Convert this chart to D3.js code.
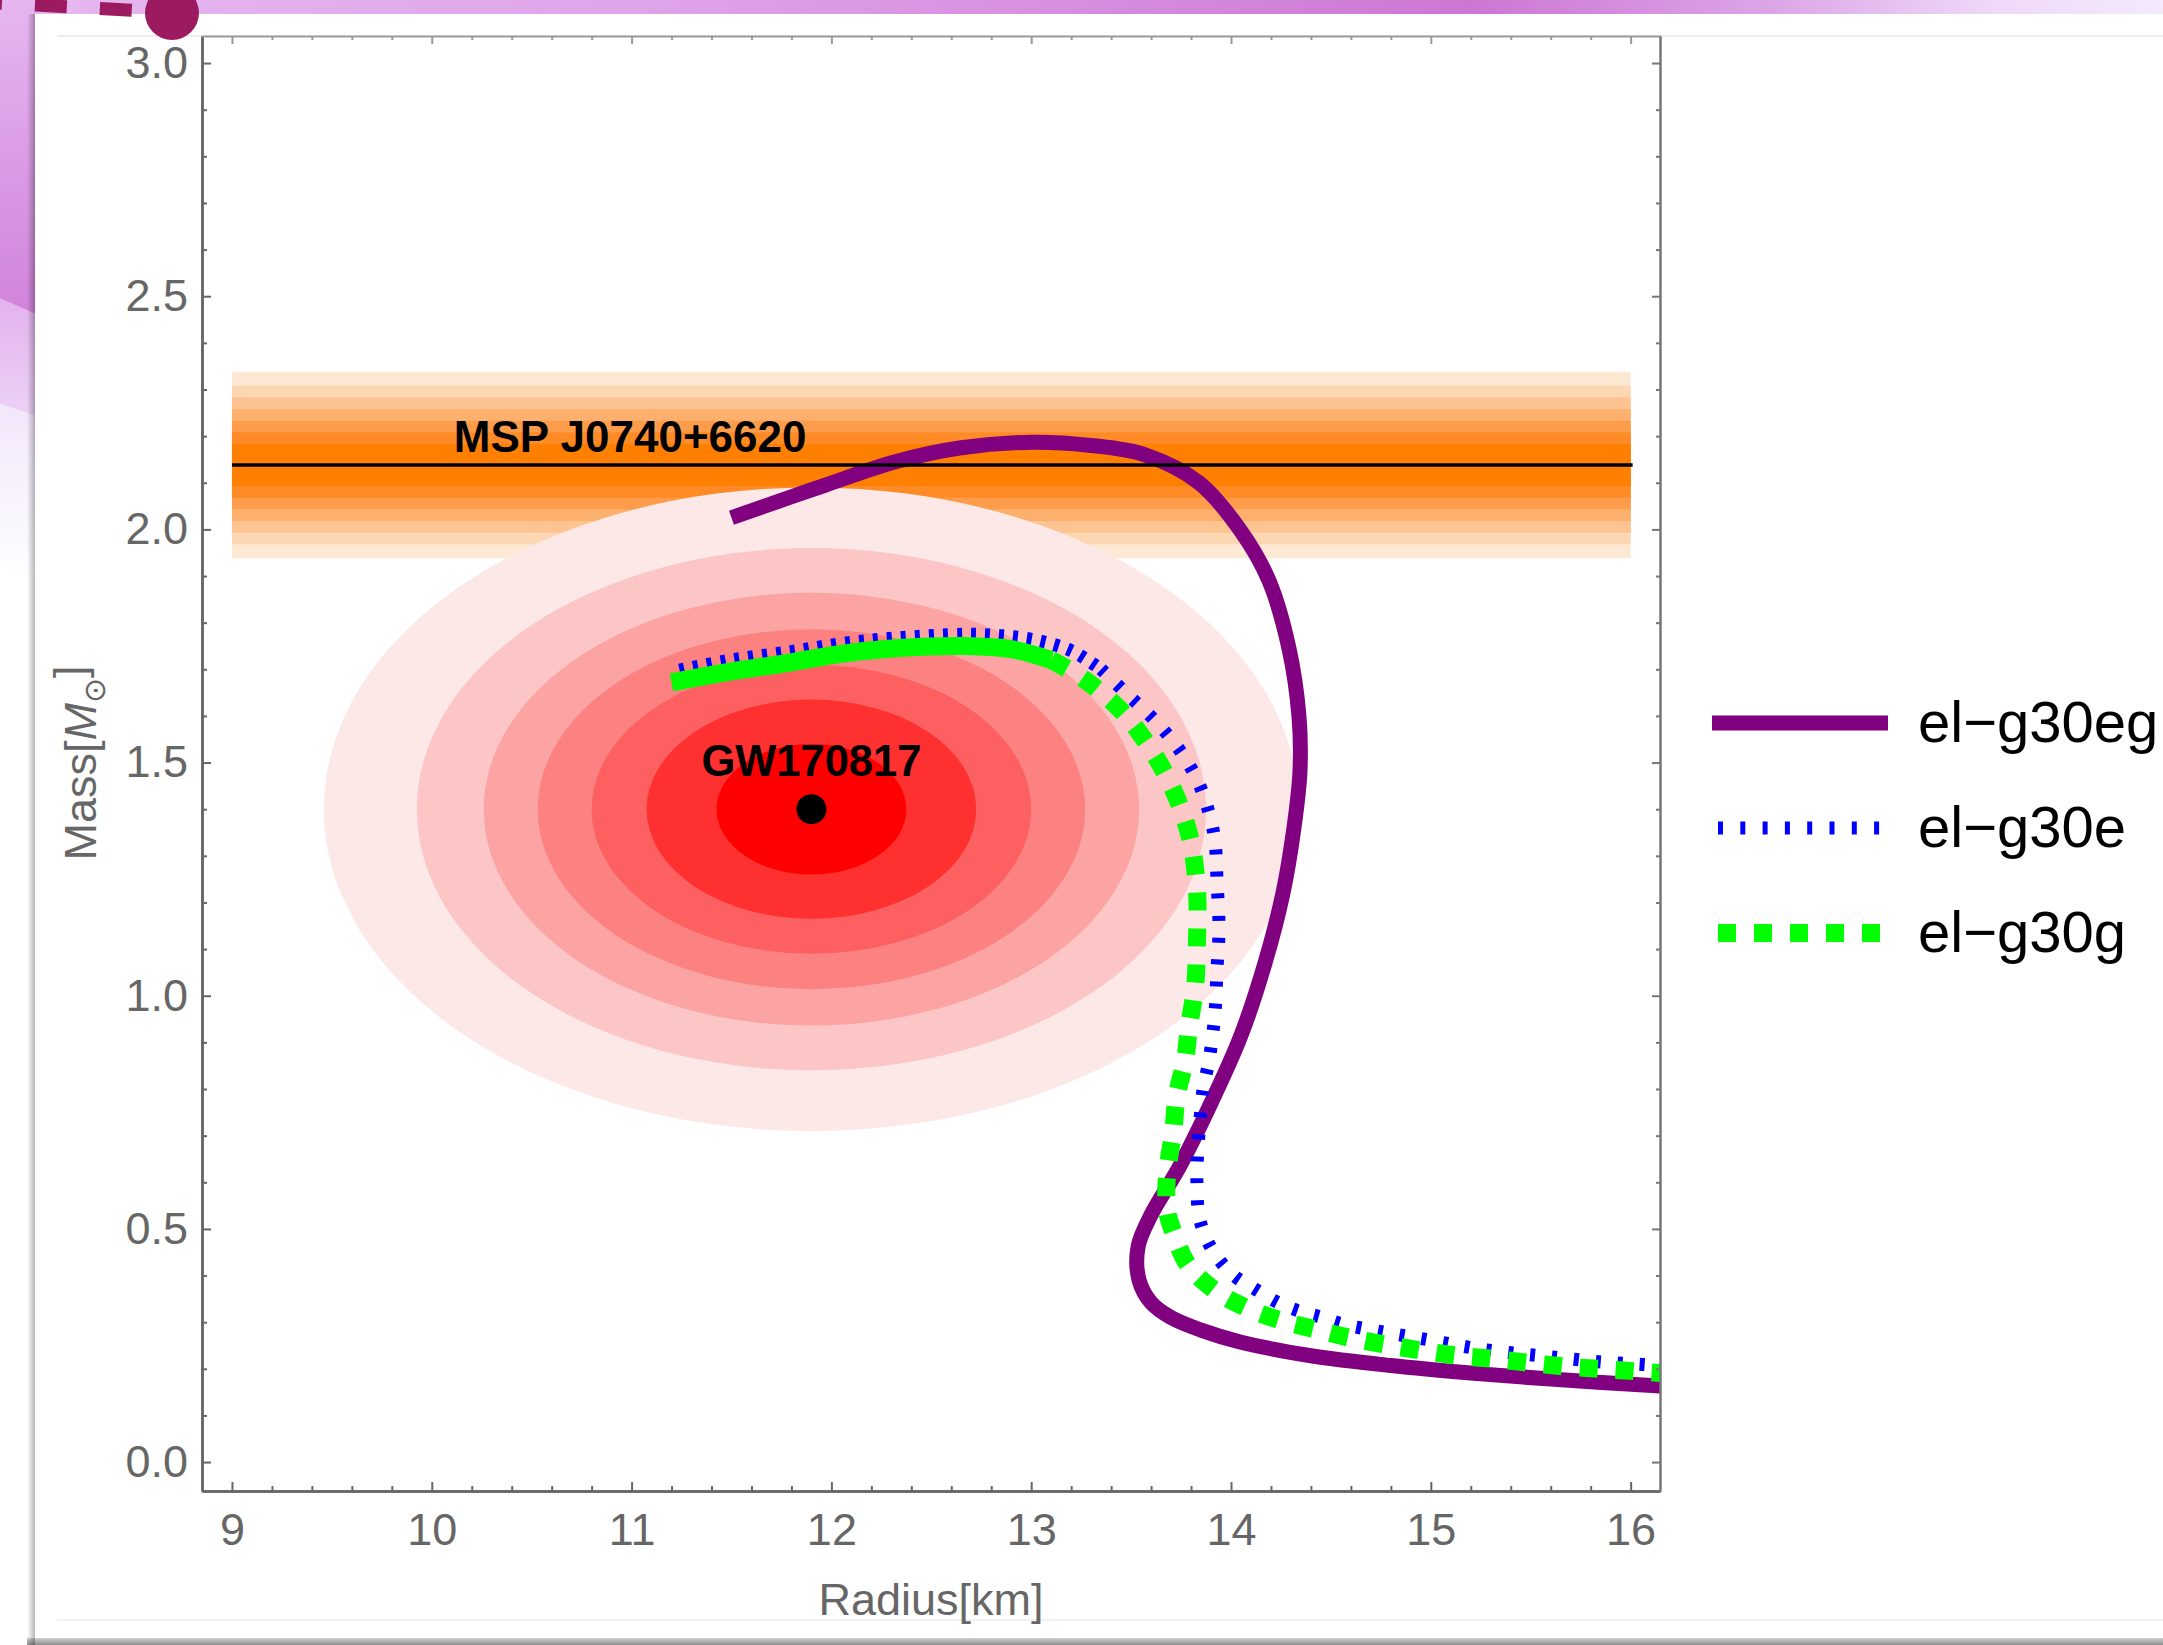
<!DOCTYPE html>
<meta charset="utf-8">
<style>
body {
  margin: 0;
  background: #fff;
}
svg {
  display: block;
  font-family: "Liberation Sans", Arial, Helvetica, sans-serif;
}
.axis text {
  fill: #666;
  font-size: 45px;
}
.label {
  fill: #666;
  font-size: 45px;
}
.legend text {
  font-size: 58px;
  fill: #000;
}
</style>

<svg width="2163" height="1645"></svg>
<script src="https://d3js.org/d3.v7.min.js"></script>
<script>

// tick labels
var radiusTicks = [9, 10, 11, 12, 13, 14, 15, 16];
var massTicks = [0, 0.5, 1.0, 1.5, 2.0, 2.5, 3.0];

var seriesNames = ["el\u2212g30eg", "el\u2212g30e", "el\u2212g30g"];

// mass-radius curves [radius km, mass Msun]
var g30eg = [
  [11.5, 2.025], [11.8, 2.07], [11.97, 2.095], [12.32, 2.145], [12.65, 2.175],
  [13.01, 2.187], [13.3, 2.18], [13.57, 2.16], [13.84, 2.1], [14.05, 1.996],
  [14.19, 1.89], [14.29, 1.745], [14.34, 1.6], [14.345, 1.48], [14.315, 1.36],
  [14.26, 1.22], [14.17, 1.07], [14.05, 0.915], [13.9, 0.77], [13.74, 0.632],
  [13.6, 0.53], [13.535, 0.462], [13.54, 0.39], [13.6, 0.342], [13.7, 0.31],
  [13.85, 0.283], [14.05, 0.257], [14.4, 0.228], [14.8, 0.207], [15.2, 0.191],
  [15.6, 0.178], [16.15, 0.163]
];

var g30e = [
  [11.24, 1.698], [11.5, 1.72], [11.8, 1.738], [12.05, 1.755], [12.32, 1.767],
  [12.67, 1.775], [12.85, 1.772], [13.03, 1.762], [13.2, 1.74], [13.35, 1.70],
  [13.46, 1.655], [13.63, 1.585], [13.76, 1.516], [13.84, 1.454], [13.89, 1.392],
  [13.92, 1.33], [13.93, 1.246], [13.94, 1.142], [13.93, 1.059], [13.92, 0.965],
  [13.89, 0.861], [13.86, 0.799], [13.84, 0.706], [13.83, 0.633], [13.83, 0.585],
  [13.84, 0.527], [13.88, 0.476], [13.94, 0.434], [14.02, 0.398], [14.12, 0.371],
  [14.23, 0.343], [14.34, 0.324], [14.45, 0.311], [14.56, 0.296], [14.76, 0.279],
  [14.99, 0.262], [15.21, 0.245], [15.43, 0.233], [15.62, 0.225], [15.84, 0.215],
  [16.0, 0.211], [16.15, 0.207]
];

var g30g = [
  [11.2, 1.672], [11.45, 1.692], [11.8, 1.715], [12.05, 1.733], [12.32, 1.745],
  [12.67, 1.75], [12.9, 1.743], [13.1, 1.72], [13.26, 1.68], [13.43, 1.62],
  [13.54, 1.565], [13.66, 1.485], [13.74, 1.412], [13.8, 1.329], [13.83, 1.225],
  [13.83, 1.121], [13.82, 1.017], [13.79, 0.934], [13.77, 0.861], [13.73, 0.789],
  [13.71, 0.706], [13.68, 0.617], [13.68, 0.539], [13.71, 0.495], [13.78, 0.426],
  [13.91, 0.371], [14.07, 0.332], [14.24, 0.305], [14.42, 0.285], [14.58, 0.268],
  [14.76, 0.253], [14.94, 0.24], [15.12, 0.229], [15.32, 0.221], [15.51, 0.212],
  [15.7, 0.204], [15.88, 0.199], [16.05, 0.194], [16.15, 0.191]
];

// MSP J0740+6620 band: centre mass, radius span, half-widths of the shaded levels
var mspName = "MSP J0740+6620";
var mspMass = 2.138;
var mspRadius = [9, 16];
var mspLevels = [0.2, 0.17, 0.145, 0.12, 0.095, 0.07, 0.045];
var mspColors = ["#fde8d3", "#fdd6b2", "#fdc390", "#fcb06e", "#fd9d4c", "#fe8b26", "#ff7f00"];

// GW170817 contours: centre and semi-axes of each level
var gwName = "GW170817";
var gwCenter = [11.9, 1.4];
var gwSemiR = [2.44, 1.975, 1.64, 1.37, 1.1, 0.825, 0.475];
var gwSemiM = [0.69, 0.56, 0.464, 0.386, 0.31, 0.235, 0.14];
var gwColors = ["#fde8e8", "#fdc6c6", "#fca4a4", "#fc8282", "#fd6060", "#fe3030", "#ff0000"];

var svg = d3.select("svg");
var defs = svg.append("defs");

// ---- slide background ----
function grad(id, x2, y2, stops) {
  var g = defs.append("linearGradient").attr("id", id)
      .attr("x1", 0).attr("y1", 0).attr("x2", x2).attr("y2", y2);
  stops.forEach(function(s) {
    g.append("stop").attr("offset", s[0]).attr("stop-color", s[1]).attr("stop-opacity", s[2] == null ? 1 : s[2]);
  });
}
grad("topband", 1, 0, [[0, "#e6b8f0"], [0.3, "#dea4e8"], [0.5, "#d68ede"], [0.68, "#cc76d4"], [0.82, "#dca6e6"], [0.92, "#eed8f8"], [1, "#f4eafc"]]);
grad("strip1", 0, 1, [[0, "#e6b6f0"], [1, "#d083da"]]);
grad("strip2", 0, 1, [[0, "#e4b2ee"], [1, "#ecd2f6"]]);
grad("strip3", 0, 1, [[0, "#f2e6fb"], [1, "#ffffff"]]);
grad("shadowL", 1, 0, [[0, "#000", 0], [1, "#000", 0.28]]);
grad("shadowB", 0, 1, [[0, "#000", 0.18], [1, "#000", 0.45]]);

svg.append("rect").attr("x", 0).attr("y", 0).attr("width", 2163).attr("height", 14).attr("fill", "url(#topband)");
svg.append("rect").attr("x", 0).attr("y", 0).attr("width", 36).attr("height", 316).attr("fill", "url(#strip1)");
svg.append("path").attr("d", "M0,298L36,314L36,416L0,404Z").attr("fill", "url(#strip2)");
svg.append("path").attr("d", "M0,404L36,416L36,580L0,565Z").attr("fill", "url(#strip3)");

svg.append("rect").attr("x", 35).attr("y", 14).attr("width", 2128).attr("height", 1624).attr("fill", "#fff");
svg.append("rect").attr("x", 27).attr("y", 14).attr("width", 8).attr("height", 1631).attr("fill", "url(#shadowL)");
svg.append("rect").attr("x", 27).attr("y", 1638).attr("width", 2136).attr("height", 7).attr("fill", "url(#shadowB)");
svg.append("line").attr("x1", 57).attr("x2", 2163).attr("y1", 36).attr("y2", 36).attr("stroke", "#e4e4e4").attr("stroke-width", 1.5);
svg.append("line").attr("x1", 57).attr("x2", 2163).attr("y1", 1620).attr("y2", 1620).attr("stroke", "#ececec").attr("stroke-width", 1.5);

svg.append("line").attr("x1", -30).attr("y1", 1.6).attr("x2", 150).attr("y2", 11.3)
    .attr("stroke", "#9c1a5f").attr("stroke-width", 13).attr("stroke-dasharray", "32 33");
svg.append("circle").attr("cx", 172).attr("cy", 13).attr("r", 27).attr("fill", "#9c1a5f");

// ---- chart ----
var x = d3.scaleLinear().domain([8.85, 16.147]).range([202, 1660]);
var y = d3.scaleLinear().domain([-0.062, 3.058]).range([1491, 36]);

defs.append("clipPath").attr("id", "plot")
  .append("rect").attr("x", 202).attr("y", 36).attr("width", 1458).attr("height", 1455);

var plot = svg.append("g").attr("clip-path", "url(#plot)");

// MSP band
plot.selectAll("rect.msp")
  .data(mspLevels)
  .enter().append("rect")
    .attr("class", "msp")
    .attr("x", x(mspRadius[0]))
    .attr("width", x(mspRadius[1]) - x(mspRadius[0]))
    .attr("y", function(d) { return y(mspMass + d); })
    .attr("height", function(d) { return y(mspMass - d) - y(mspMass + d); })
    .attr("fill", function(d, i) { return mspColors[i]; });

// GW contours
plot.selectAll("ellipse.gw")
  .data(gwSemiR)
  .enter().append("ellipse")
    .attr("class", "gw")
    .attr("cx", x(gwCenter[0]))
    .attr("cy", y(gwCenter[1]))
    .attr("rx", function(d) { return x(gwCenter[0] + d) - x(gwCenter[0]); })
    .attr("ry", function(d, i) { return y(gwCenter[1]) - y(gwCenter[1] + gwSemiM[i]); })
    .attr("fill", function(d, i) { return gwColors[i]; });

var line = d3.line()
    .x(function(d) { return x(d[0]); })
    .y(function(d) { return y(d[1]); })
    .curve(d3.curveCatmullRom);

function split(data, r) {
  var k = data.findIndex(function(d) { return d[0] >= r; });
  return [data.slice(0, k + 1), data.slice(k)];
}

plot.append("path").datum(g30eg)
    .attr("d", line).attr("fill", "none")
    .attr("stroke", "#800080").attr("stroke-width", 15);

var e = split(g30e, 13.35);
plot.append("path").datum(e[0])
    .attr("d", line).attr("fill", "none")
    .attr("stroke", "#0000ff").attr("stroke-width", 13).attr("stroke-dasharray", "5 9");
plot.append("path").datum(e[1])
    .attr("d", line).attr("fill", "none")
    .attr("stroke", "#0000ff").attr("stroke-width", 13).attr("stroke-dasharray", "5 17");

var gg = split(g30g, 13.1);
plot.append("path").datum(gg[0])
    .attr("d", line).attr("fill", "none")
    .attr("stroke", "#00ff00").attr("stroke-width", 18);
plot.append("path").datum(gg[1])
    .attr("d", line).attr("fill", "none")
    .attr("stroke", "#00ff00").attr("stroke-width", 18).attr("stroke-dasharray", "18 18");

// MSP central line and labels
plot.append("line")
    .attr("x1", x(mspRadius[0])).attr("x2", x(mspRadius[1]) + 2)
    .attr("y1", y(mspMass)).attr("y2", y(mspMass))
    .attr("stroke", "#000").attr("stroke-width", 3.5);

plot.append("text")
    .attr("x", x(10.11)).attr("y", y(mspMass) - 13)
    .attr("font-size", 44).attr("font-weight", "bold")
    .text(mspName);

plot.append("circle")
    .attr("cx", x(gwCenter[0])).attr("cy", y(gwCenter[1]))
    .attr("r", 15).attr("fill", "#000");

plot.append("text")
    .attr("x", x(gwCenter[0])).attr("y", y(gwCenter[1]) - 33)
    .attr("text-anchor", "middle")
    .attr("font-size", 43.5).attr("font-weight", "bold")
    .text(gwName);

// ---- frame ----
var radiusMinor = d3.range(9, 16.2, 0.2).filter(function(d) { return Math.abs(d - Math.round(d)) > 0.01; });
var massMinor = d3.range(0, 3.05, 0.1).filter(function(d) { return Math.abs(d * 2 - Math.round(d * 2)) > 0.01; });

function style(g, color, width) {
  g.selectAll(".domain").attr("stroke", color).attr("stroke-width", width);
  g.selectAll(".tick line").attr("stroke", color).attr("stroke-width", 2);
}

svg.append("g").attr("class", "axis").attr("transform", "translate(0,1491)")
    .call(d3.axisBottom(x).tickValues(radiusTicks).tickSize(-9).tickSizeOuter(0).tickPadding(22).tickFormat(d3.format("d")))
    .call(style, "#666", 2.5);
svg.append("g").attr("class", "axis").attr("transform", "translate(0,1491)")
    .call(d3.axisBottom(x).tickValues(radiusMinor).tickSize(-5).tickSizeOuter(0).tickFormat(""))
    .call(style, "#666", 2.5);

svg.append("g").attr("class", "axis").attr("transform", "translate(202,0)")
    .call(d3.axisLeft(y).tickValues(massTicks).tickSize(-9).tickSizeOuter(0).tickPadding(14).tickFormat(d3.format(".1f")))
    .call(style, "#666", 2.5);
svg.append("g").attr("class", "axis").attr("transform", "translate(202,0)")
    .call(d3.axisLeft(y).tickValues(massMinor).tickSize(-5).tickSizeOuter(0).tickFormat(""))
    .call(style, "#666", 2.5);

svg.append("g").attr("class", "axis").attr("transform", "translate(0,36)")
    .call(d3.axisTop(x).tickValues(radiusTicks).tickSize(-8).tickSizeOuter(0).tickFormat(""))
    .call(style, "#999", 1.5);
svg.append("g").attr("class", "axis").attr("transform", "translate(0,36)")
    .call(d3.axisTop(x).tickValues(radiusMinor).tickSize(-4).tickSizeOuter(0).tickFormat(""))
    .call(style, "#999", 1.5);

svg.append("g").attr("class", "axis").attr("transform", "translate(1660,0)")
    .call(d3.axisRight(y).tickValues(massTicks).tickSize(-8).tickSizeOuter(0).tickFormat(""))
    .call(style, "#777", 2);
svg.append("g").attr("class", "axis").attr("transform", "translate(1660,0)")
    .call(d3.axisRight(y).tickValues(massMinor).tickSize(-4).tickSizeOuter(0).tickFormat(""))
    .call(style, "#777", 2);

svg.append("text").attr("class", "label")
    .attr("x", 931).attr("y", 1615)
    .attr("text-anchor", "middle")
    .text("Radius[km]");

var ml = svg.append("text").attr("class", "label")
    .attr("transform", "translate(96,763) rotate(-90)")
    .attr("text-anchor", "middle");
ml.append("tspan").text("Mass[");
ml.append("tspan").attr("font-style", "italic").text("M");
ml.append("tspan").attr("dy", "0.3em").attr("font-size", "30px").attr("font-family", "DejaVu Sans").text("\u2299");
ml.append("tspan").attr("dy", "-0.45em").text("]");

// ---- legend ----
var legend = svg.append("g").attr("class", "legend");
var legendStyles = [
  {color: "#800080", width: 15, dash: null, x1: 1712, x2: 1888},
  {color: "#0000ff", width: 13, dash: "5 17.3", x1: 1718, x2: 1880},
  {color: "#00ff00", width: 18, dash: "18 18", x1: 1718, x2: 1880}
];
var legendY = [723, 828, 933];

legendStyles.forEach(function(s, i) {
  legend.append("line")
      .attr("x1", s.x1).attr("x2", s.x2)
      .attr("y1", legendY[i]).attr("y2", legendY[i])
      .attr("stroke", s.color).attr("stroke-width", s.width)
      .attr("stroke-dasharray", s.dash);
  legend.append("text")
      .attr("x", 1918).attr("y", legendY[i] + 19)
      .text(seriesNames[i]);
});

</script>
